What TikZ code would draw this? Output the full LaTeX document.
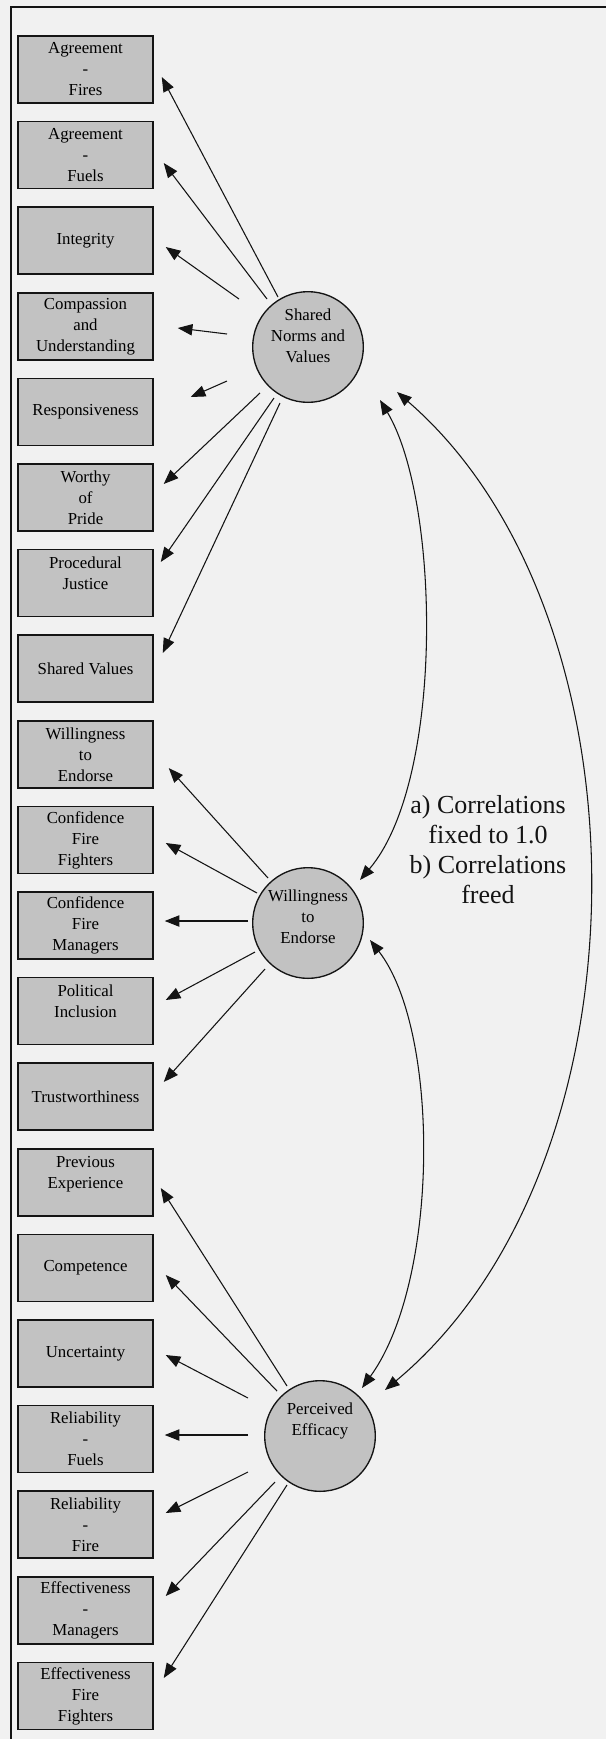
\documentclass[tikz,border=0pt]{standalone}
\usepackage{fontspec}
\setmainfont{Liberation Serif}
\usetikzlibrary{arrows.meta}
\definecolor{bg}{RGB}{241,241,241}
\definecolor{boxgray}{RGB}{194,194,194}
\definecolor{ink}{RGB}{20,20,20}
\newcommand\dn[1]{\rule[-#1]{0pt}{#1}}
\begin{document}
\begin{tikzpicture}[x=0.75pt,y=-0.75pt,
  ind/.style={draw=ink, line width=1.1pt, fill=boxgray, minimum width=101.25pt, minimum height=50.25pt, inner sep=0pt, align=center, font=\fontsize{12.6}{15.75}\selectfont},
  lat/.style={circle, draw=ink, line width=1pt, fill=boxgray, minimum size=83pt, inner sep=0pt, align=center, font=\fontsize{12.6}{15.75}\selectfont},
  arr/.style={draw=ink, line width=0.8pt, -{Triangle[length=11pt,width=8.5pt]}},
  cor/.style={draw=ink, line width=0.8pt, {Triangle[length=11pt,width=8.5pt]}-{Triangle[length=11pt,width=8.5pt]}},
  note/.style={font=\fontsize{19.5}{22.5}\selectfont, align=center, text=ink}
]
\fill[bg] (0,0) rectangle (606,1739);
\useasboundingbox (0,0) rectangle (606,1739);
\coordinate (fa) at (11,1739);
\coordinate (fb) at (11,7);
\coordinate (fc) at (606,7);
\draw[ink, line width=1.5pt] (fa) -- (fb) -- (fc);

% indicator boxes
\node[ind] (b1)  at (85.5,69.5)   {Agreement\\-\\Fires};
\node[ind] (b2)  at (85.5,155.1)  {Agreement\\-\\Fuels};
\node[ind] (b3)  at (85.5,240.7)  {Integrity};
\node[ind] (b4)  at (85.5,326.3)  {Compassion\\and\\Understanding};
\node[ind] (b5)  at (85.5,411.9)  {Responsiveness};
\node[ind] (b6)  at (85.5,497.5)  {Worthy\\of\\Pride};
\node[ind] (b7)  at (85.5,583.1)  {Procedural\\Justice\dn{15pt}};
\node[ind] (b8)  at (85.5,668.7)  {Shared Values};
\node[ind] (b9)  at (85.5,754.3)  {Willingness\\to\\Endorse};
\node[ind] (b10) at (85.5,839.9)  {Confidence\\Fire\\Fighters};
\node[ind] (b11) at (85.5,925.5)  {Confidence\\Fire\\Managers};
\node[ind] (b12) at (85.5,1011.1) {Political\\Inclusion\dn{15pt}};
\node[ind] (b13) at (85.5,1096.7) {Trustworthiness};
\node[ind] (b14) at (85.5,1182.3) {Previous\\Experience\dn{15pt}};
\node[ind] (b15) at (85.5,1267.9) {Competence};
\node[ind] (b16) at (85.5,1353.5) {Uncertainty};
\node[ind] (b17) at (85.5,1439.1) {Reliability\\-\\Fuels};
\node[ind] (b18) at (85.5,1524.7) {Reliability\\-\\Fire};
\node[ind] (b19) at (85.5,1610.3) {Effectiveness\\-\\Managers};
\node[ind] (b20) at (85.5,1695.9) {Effectiveness\\Fire\\Fighters};

% latent factors
\node[lat] (sn) at (308,347)  {Shared\\Norms and\\Values\dn{16.5pt}};
\node[lat] (we) at (308,923)  {Willingness\\to\\Endorse\dn{9pt}};
\node[lat] (pe) at (320,1436) {Perceived\\Efficacy\dn{25pt}};

\node[note] (nt) at (488,850) {a) Correlations\\fixed to 1.0\\b) Correlations\\freed};

% loadings
\draw[arr] ([shift={(-30,-50)}]sn.center) -- ([shift={(8,7.5)}]b1.east);
\draw[arr] ([shift={(-41,-48)}]sn.center) -- ([shift={(10,7.9)}]b2.east);
\draw[arr] ([shift={(-69,-48)}]sn.center) -- ([shift={(12,6.3)}]b3.east);
\draw[arr] ([shift={(-81,-13)}]sn.center) -- ([shift={(24,1.7)}]b4.east);
\draw[arr] ([shift={(-81,34)}]sn.center)  -- ([shift={(37,-14.9)}]b5.east);
\draw[arr] ([shift={(-48,46)}]sn.center)  -- ([shift={(10,-13.5)}]b6.east);
\draw[arr] ([shift={(-34,51)}]sn.center)  -- ([shift={(7,-21.1)}]b7.east);
\draw[arr] ([shift={(-28,56)}]sn.center)  -- ([shift={(9,-15.7)}]b8.east);

\draw[arr] ([shift={(-40,-45)}]we.center) -- ([shift={(15,13.7)}]b9.east);
\draw[arr] ([shift={(-51,-30)}]we.center) -- ([shift={(12,3.1)}]b10.east);
\draw[arr] ([shift={(-60,-2)}]we.center)  -- ([shift={(11,-4.5)}]b11.east);
\draw[arr] ([shift={(-53,29)}]we.center)  -- ([shift={(12,-11.1)}]b12.east);
\draw[arr] ([shift={(-43,46)}]we.center)  -- ([shift={(10,-14.7)}]b13.east);

\draw[arr] ([shift={(-33,-50)}]pe.center) -- ([shift={(7,5.7)}]b14.east);
\draw[arr] ([shift={(-43,-45)}]pe.center) -- ([shift={(12,7.1)}]b15.east);
\draw[arr] ([shift={(-72,-38)}]pe.center) -- ([shift={(12,1.5)}]b16.east);
\draw[arr] ([shift={(-72,-1)}]pe.center)  -- ([shift={(11,-4.1)}]b17.east);
\draw[arr] ([shift={(-72,36)}]pe.center)  -- ([shift={(12,-11.7)}]b18.east);
\draw[arr] ([shift={(-45,46)}]pe.center)  -- ([shift={(12,-14.3)}]b19.east);
\draw[arr] ([shift={(-33,49)}]pe.center)  -- ([shift={(10,-17.9)}]b20.east);

% correlations
\draw[cor] ([shift={(72,53)}]sn.center) .. controls (440,500) and (445,780) .. ([shift={(52,-43)}]we.center);
\draw[cor] ([shift={(62,17)}]we.center) .. controls (440,1030) and (440,1280) .. ([shift={(42,-48)}]pe.center);
\draw[cor] ([shift={(89,45)}]sn.center) .. controls (655,615) and (655,1165) .. ([shift={(65,-46)}]pe.center);
\end{tikzpicture}
\end{document}
